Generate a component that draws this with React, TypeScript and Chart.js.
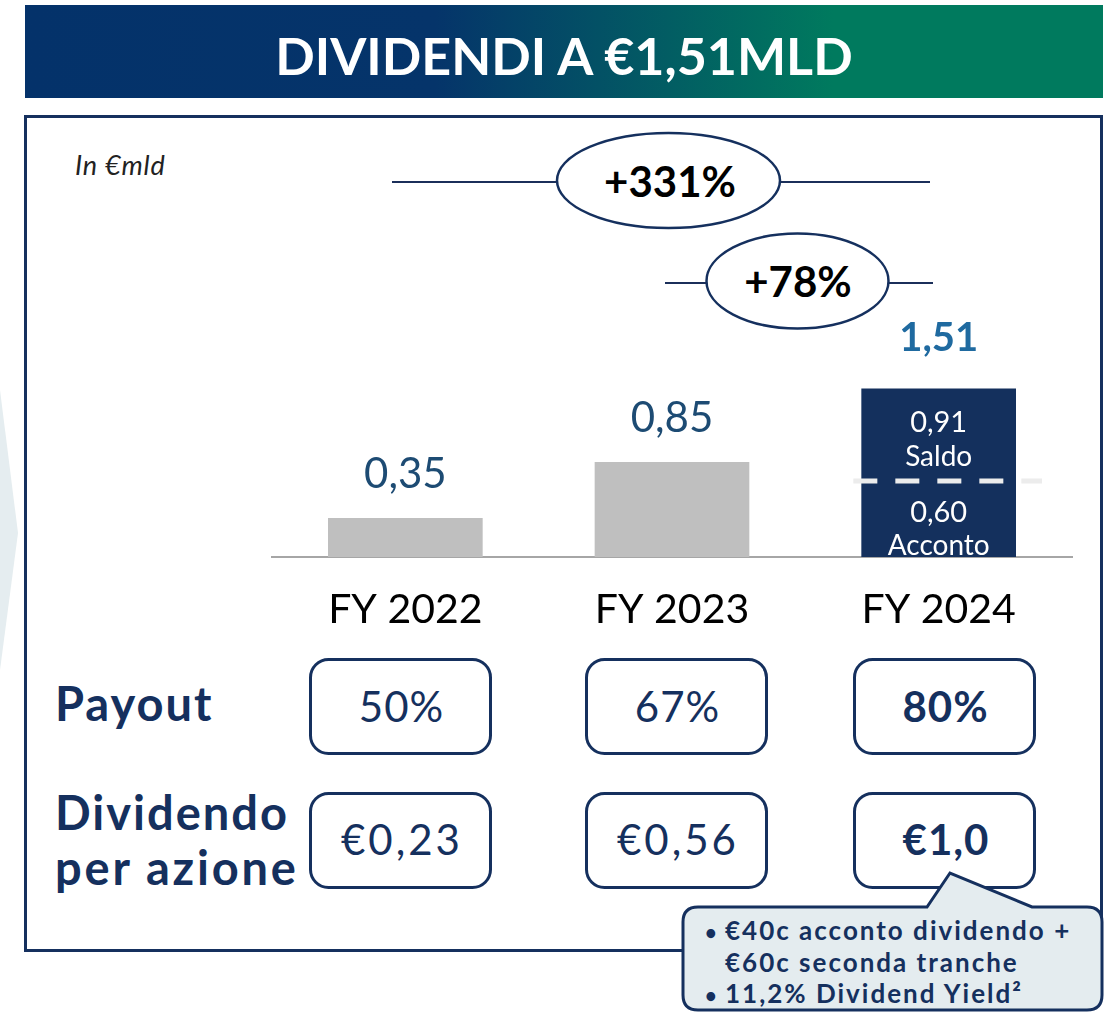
import React, { useEffect, useRef } from "react";
import { Chart, registerables } from "chart.js";

Chart.register(...registerables);

// ---------- data ----------
const categories = ["FY 2022", "FY 2023", "FY 2024"];
const singleValues = [0.35, 0.85, null];
const accontoValues = [null, null, 0.6];
const saldoValues = [null, null, 0.91];
const totalLabels = ["0,35", "0,85", "1,51"];
const accontoLabels = [null, null, "0,60"];
const saldoLabels = [null, null, "0,91"];
const payoutLabels = ["50%", "67%", "80%"];
const dpsLabels = ["€0,23", "€0,56", "€1,0"];
const growthLabels = ["+331%", "+78%"];
const calloutLines = ["€40c acconto dividendo +", "€60c seconda tranche", "11,2% Dividend Yield²"];

const NAVY = "#15305e";
const FONT = "Lato, 'Open Sans', sans-serif";

const barLabelPlugin = {
  id: "barLabels",
  afterDatasetsDraw(chart: any) {
    const { ctx, scales } = chart;
    const xs = scales.x;
    const ys = scales.y;
    ctx.save();
    ctx.textAlign = "center";
    ctx.textBaseline = "alphabetic";
    categories.forEach((_, i) => {
      const total = (singleValues[i] ?? 0) + (accontoValues[i] ?? 0) + (saldoValues[i] ?? 0);
      const px = xs.getPixelForValue(i);
      const top = ys.getPixelForValue(total);
      const hl = i === categories.length - 1;
      ctx.font = hl ? `bold 40px ${FONT}` : `42px ${FONT}`;
      ctx.fillStyle = hl ? "#1f6aa0" : "#1d4b73";
      ctx.fillText(totalLabels[i], px, top - (hl ? 37 : 30));
    });
    const accMeta = chart.getDatasetMeta(1);
    const salMeta = chart.getDatasetMeta(2);
    accontoValues.forEach((v, i) => {
      if (v == null) return;
      const bar: any = accMeta.data[i];
      const sal: any = salMeta.data[i];
      // dashed separator
      ctx.save();
      ctx.strokeStyle = "#ececec";
      ctx.lineWidth = 5;
      ctx.setLineDash([24, 18]);
      const yy = bar.y - 9;
      ctx.beginPath();
      ctx.moveTo(bar.x - bar.width / 2 - 8, yy);
      ctx.lineTo(bar.x + bar.width / 2 + 26, yy);
      ctx.stroke();
      ctx.restore();
      ctx.fillStyle = "#ffffff";
      ctx.font = `29px ${FONT}`;
      ctx.fillText(accontoLabels[i] as string, bar.x, bar.base - 35);
      ctx.font = `28px ${FONT}`;
      ctx.fillText("Acconto", bar.x, bar.base - 2);
      ctx.font = `29px ${FONT}`;
      ctx.fillText(saldoLabels[i] as string, sal.x, sal.y + 44);
      ctx.font = `28px ${FONT}`;
      ctx.fillText("Saldo", sal.x, sal.y + 78);
    });
    ctx.restore();
  },
};

export default function App() {
  const canvasRef = useRef<HTMLCanvasElement>(null);

  useEffect(() => {
    const canvas = canvasRef.current;
    if (!canvas) return;
    const chart = new Chart(canvas, {
      type: "bar",
      data: {
        labels: categories,
        datasets: [
          { label: "Totale", data: singleValues as any, backgroundColor: "#bfbfbf", borderWidth: 0 },
          { label: "Acconto", data: accontoValues as any, backgroundColor: "#14305d", borderWidth: 0 },
          { label: "Saldo", data: saldoValues as any, backgroundColor: "#14305d", borderWidth: 0 },
        ],
      },
      options: {
        responsive: false,
        animation: false,
        events: [],
        layout: { padding: { left: 272, right: 39, top: 222, bottom: 0 } },
        datasets: { bar: { categoryPercentage: 1, barPercentage: 0.58 } },
        plugins: { legend: { display: false }, tooltip: { enabled: false } },
        scales: {
          x: {
            stacked: true,
            grid: { display: false, drawTicks: false },
            border: { display: true, color: "#a6a6a6", width: 2 },
            ticks: { color: "#000000", font: { family: FONT, size: 41 }, padding: 28 },
            afterFit: (scale: any) => {
              scale.height = 83;
            },
          },
          y: { stacked: true, display: false, min: 0, max: 3 },
        },
      },
      plugins: [barLabelPlugin],
    });
    return () => chart.destroy();
  }, []);

  const boxLefts = [309, 585, 853];
  const boxW = 183;

  return (
    <div style={{ position: "absolute", left: 0, top: 0, width: 1111, height: 1012, background: "#fff", overflow: "hidden" }}>
      <svg width={1111} height={1012} style={{ position: "absolute", left: 0, top: 0 }}>
        <defs>
          <linearGradient id="bn" x1="0" x2="1" y1="0" y2="0">
            <stop offset="0" stopColor="#04326a" />
            <stop offset="0.38" stopColor="#05346a" />
            <stop offset="0.75" stopColor="#007a5e" />
            <stop offset="1" stopColor="#007a5e" />
          </linearGradient>
        </defs>
        <rect x={25} y={5} width={1078} height={93} fill="url(#bn)" />
        <text x={564} y={75} textAnchor="middle" fill="#ffffff" fontFamily={FONT} fontWeight="bold" fontSize={52}>
          DIVIDENDI A €1,51MLD
        </text>
        <polygon points="0,390 18,533 0,670" fill="#e5edf0" />
        <rect x={25.5} y={116.5} width={1076} height={834} fill="none" stroke={NAVY} strokeWidth={3} />
        <text x={75} y={175} fill="#222" fontFamily={FONT} fontStyle="italic" fontSize={27} letterSpacing={0.8}>
          In €mld
        </text>

        {/* growth brackets */}
        <line x1={392} y1={182} x2={557} y2={182} stroke="#1b2f5a" strokeWidth={2} />
        <line x1={781} y1={182} x2={930} y2={182} stroke="#1b2f5a" strokeWidth={2} />
        <ellipse cx={668.5} cy={180.5} rx={111.5} ry={47.5} fill="#fff" stroke={NAVY} strokeWidth={2.5} />
        <text x={670} y={197} textAnchor="middle" fill="#000" fontFamily={FONT} fontWeight="bold" fontSize={42}>
          {growthLabels[0]}
        </text>
        <line x1={665} y1={283} x2={707} y2={283} stroke="#1b2f5a" strokeWidth={2} />
        <line x1={888} y1={283} x2={933} y2={283} stroke="#1b2f5a" strokeWidth={2} />
        <ellipse cx={797.5} cy={281} rx={91} ry={47.5} fill="#fff" stroke={NAVY} strokeWidth={2.5} />
        <text x={798} y={297} textAnchor="middle" fill="#000" fontFamily={FONT} fontWeight="bold" fontSize={42}>
          {growthLabels[1]}
        </text>

        {/* row labels */}
        <g fill={NAVY} fontFamily={FONT} fontWeight="bold" fontSize={47} letterSpacing={2}>
          <text x={55} y={721}>Payout</text>
          <text x={55} y={830}>Dividendo</text>
          <text x={55} y={885} letterSpacing={2.8}>per azione</text>
        </g>

        {boxLefts.map((bx, i) => {
          const bold = i === boxLefts.length - 1;
          return (
            <g key={i}>
              <rect x={bx + 1.5} y={659.5} width={boxW - 3} height={94} rx={18} fill="#fff" stroke={NAVY} strokeWidth={3} />
              <text x={bx + boxW / 2 + 1} y={722} textAnchor="middle" fill={NAVY} fontFamily={FONT} fontWeight={bold ? "bold" : "normal"} fontSize={42} letterSpacing={1}>
                {payoutLabels[i]}
              </text>
              <rect x={bx + 1.5} y={793.5} width={boxW - 3} height={94} rx={18} fill="#fff" stroke={NAVY} strokeWidth={3} />
              <text x={bx + boxW / 2 + 1.5} y={855} textAnchor="middle" fill={NAVY} fontFamily={FONT} fontWeight={bold ? "bold" : "normal"} fontSize={42} letterSpacing={bold ? 1 : 3}>
                {dpsLabels[i]}
              </text>
            </g>
          );
        })}

        {/* callout */}
        <path
          d="M 698 907 L 927 907 L 950 873 L 1032 907 L 1087 907 Q 1102 907 1102 922 L 1102 995 Q 1102 1010 1087 1010 L 698 1010 Q 683 1010 683 995 L 683 922 Q 683 907 698 907 Z"
          fill="#e4ecef"
          stroke={NAVY}
          strokeWidth={3}
        />
        <g fill={NAVY} fontFamily={FONT} fontWeight="bold" fontSize={26} letterSpacing={2}>
          <text x={705} y={940} fontSize={20}>•</text>
          <text x={725} y={940}>{calloutLines[0]}</text>
          <text x={725} y={972}>{calloutLines[1]}</text>
          <text x={705} y={1003} fontSize={20}>•</text>
          <text x={725} y={1003}>{calloutLines[2]}</text>
        </g>
      </svg>
      <canvas ref={canvasRef} width={1111} height={640} style={{ position: "absolute", left: 0, top: 0, width: 1111, height: 640 }} />
    </div>
  );
}
